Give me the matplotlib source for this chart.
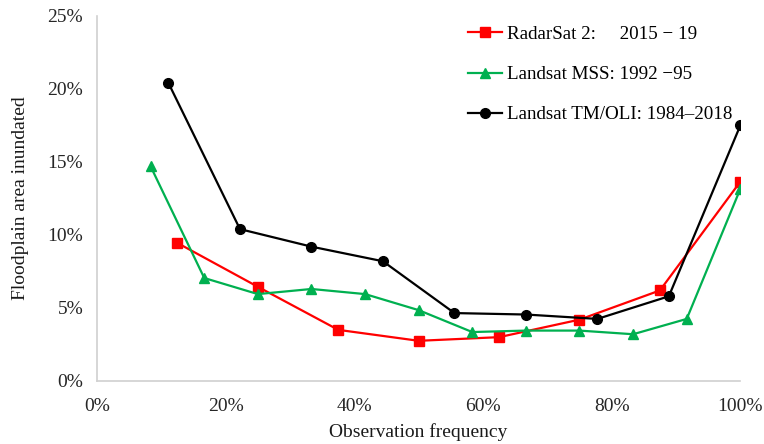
import matplotlib
matplotlib.use("Agg")
import matplotlib.pyplot as plt
from matplotlib.ticker import FuncFormatter

plt.rcParams['font.family'] = ['Liberation Serif', 'DejaVu Serif']

# Data (fractions in %)
radar_x = [12.5, 25, 37.5, 50, 62.5, 75, 87.5, 100]
radar_y = [9.45, 6.45, 3.5, 2.75, 3.0, 4.2, 6.2, 13.65]

mss_x = [8.33, 16.67, 25, 33.33, 41.67, 50, 58.33, 66.67, 75, 83.33, 91.67, 100]
mss_y = [14.7, 7.05, 5.95, 6.3, 5.95, 4.85, 3.35, 3.45, 3.45, 3.2, 4.25, 13.15]

tm_x = [11.11, 22.22, 33.33, 44.44, 55.56, 66.67, 77.78, 88.89, 100]
tm_y = [20.4, 10.4, 9.2, 8.2, 4.65, 4.55, 4.25, 5.8, 17.5]

labels = ["RadarSat 2:     2015 \u2212 19",
          "Landsat MSS: 1992 \u221295",
          "Landsat TM/OLI: 1984\u20132018"]

fig = plt.figure(figsize=(7.64, 4.44), dpi=100)
ax = fig.add_axes([0.127, 0.142, 0.842, 0.822])

ax.plot(radar_x, radar_y, color='#ff0000', lw=1.6, marker='s', ms=6.5, label=labels[0])
ax.plot(mss_x, mss_y, color='#00b050', lw=1.6, marker='^', ms=7, label=labels[1])
ax.plot(tm_x, tm_y, color='#000000', lw=1.6, marker='o', ms=7, label=labels[2])

ax.set_xlim(0, 100)
ax.set_ylim(0, 25)
ax.set_xticks([0, 20, 40, 60, 80, 100])
ax.set_yticks([0, 5, 10, 15, 20, 25])
fmt = FuncFormatter(lambda v, p: f"{v:.0f}%")
ax.xaxis.set_major_formatter(fmt)
ax.yaxis.set_major_formatter(fmt)
ax.tick_params(length=0, labelsize=14, colors='#262626')
ax.tick_params(axis='x', pad=12)
ax.tick_params(axis='y', pad=10)
for s in ['top', 'right']:
    ax.spines[s].set_visible(False)
for s in ['left', 'bottom']:
    ax.spines[s].set_color('#d0d0d0')
    ax.spines[s].set_linewidth(1.2)

ax.set_xlabel("Observation frequency", fontsize=14, color='#1a1a1a', labelpad=6)
ax.set_ylabel("Floodplain area inundated", fontsize=14, color='#1a1a1a', labelpad=13)

leg = ax.legend(loc='upper left', bbox_to_anchor=(0.55, 1.02), frameon=False,
                fontsize=13.7, labelspacing=1.2, handlelength=1.8, handletextpad=0.25)

fig.savefig("out.png", dpi=100)
